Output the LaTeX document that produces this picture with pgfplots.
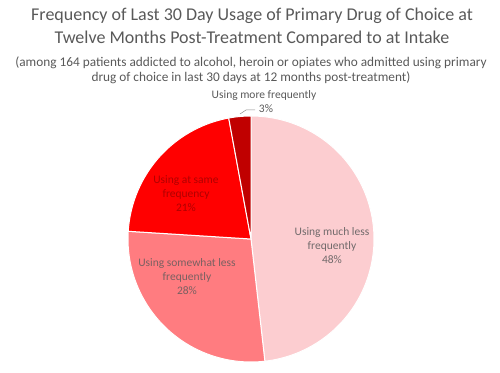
\documentclass[border=0pt]{standalone}
\usepackage{pgfplots}
\pgfplotsset{compat=1.18}
\usepackage{pgfplotstable}
\usepackage{fontspec}
\setmainfont{Carlito}
\definecolor{cMuch}{HTML}{FCCDD0}
\definecolor{cSome}{HTML}{FF7C80}
\definecolor{cSame}{HTML}{FF0000}
\definecolor{cMore}{HTML}{C00000}
\definecolor{txt}{HTML}{595959}
\definecolor{txtSame}{HTML}{B00000}
\pgfplotstableread{
share
48.2
27.8
21.1
2.9
}\piedata
\begin{document}
\begin{tikzpicture}
\pgfplotstablegetelem{0}{share}\of\piedata \let\vA\pgfplotsretval
\pgfplotstablegetelem{1}{share}\of\piedata \let\vB\pgfplotsretval
\pgfplotstablegetelem{2}{share}\of\piedata \let\vC\pgfplotsretval
\pgfplotstablegetelem{3}{share}\of\piedata \let\vD\pgfplotsretval
\pgfmathsetmacro\aA{90}
\pgfmathsetmacro\aB{\aA-3.6*\vA}
\pgfmathsetmacro\aC{\aB-3.6*\vB}
\pgfmathsetmacro\aD{\aC-3.6*\vC}
\pgfmathsetmacro\aE{\aD-3.6*\vD}
\begin{axis}[
  scale only axis, width=500pt, height=372pt,
  xmin=0, xmax=500, ymin=0, ymax=372,
  hide axis, clip=false,
]
\path (0,0) rectangle (500,372);
\addplot[fill=cMuch, draw=white, line width=1pt, domain=\aB:\aA, samples=90, variable=\t] ({251+123*cos(\t)},{133+123*sin(\t)}) -- (251,133) -- cycle;
\addplot[fill=cSome, draw=white, line width=1pt, domain=\aC:\aB, samples=60, variable=\t] ({251+123*cos(\t)},{133+123*sin(\t)}) -- (251,133) -- cycle;
\addplot[fill=cSame, draw=white, line width=1pt, domain=\aD:\aC, samples=50, variable=\t] ({251+123*cos(\t)},{133+123*sin(\t)}) -- (251,133) -- cycle;
\addplot[fill=cMore, draw=white, line width=1pt, domain=\aE:\aD, samples=10, variable=\t] ({251+123*cos(\t)},{133+123*sin(\t)}) -- (251,133) -- cycle;
\addplot[draw=txt!70, line width=0.5pt] coordinates {(240,258) (246,262) (255,262)};
% titles
\node[txt, font=\fontsize{18}{23}\selectfont, align=center, anchor=center] at (252,345) {Frequency of Last 30 Day Usage of Primary Drug of Choice at\\Twelve Months Post-Treatment Compared to at Intake};
\node[txt, font=\fontsize{13.3}{15}\selectfont, align=center, anchor=center] at (251,302) {(among 164 patients addicted to alcohol, heroin or opiates who admitted using primary\\drug of choice in last 30 days at 12 months post-treatment)};
% labels
\node[txt, font=\fontsize{11.5}{14}\selectfont, align=center] at (264,277) {Using more frequently};
\node[txt, font=\fontsize{11.5}{14}\selectfont, align=center] at (266,263) {3\%};
\node[color=txtSame, font=\fontsize{11.5}{14}\selectfont, align=center] at (186,178) {Using at same\\frequency\\21\%};
\node[color=txt!80!cSome, font=\fontsize{11.5}{14}\selectfont, align=center] at (187,95) {Using somewhat less\\frequently\\28\%};
\node[color=txt!85!cMuch, font=\fontsize{11.5}{14}\selectfont, align=center] at (332,126) {Using much less\\frequently\\48\%};
\end{axis}
\end{tikzpicture}
\end{document}
